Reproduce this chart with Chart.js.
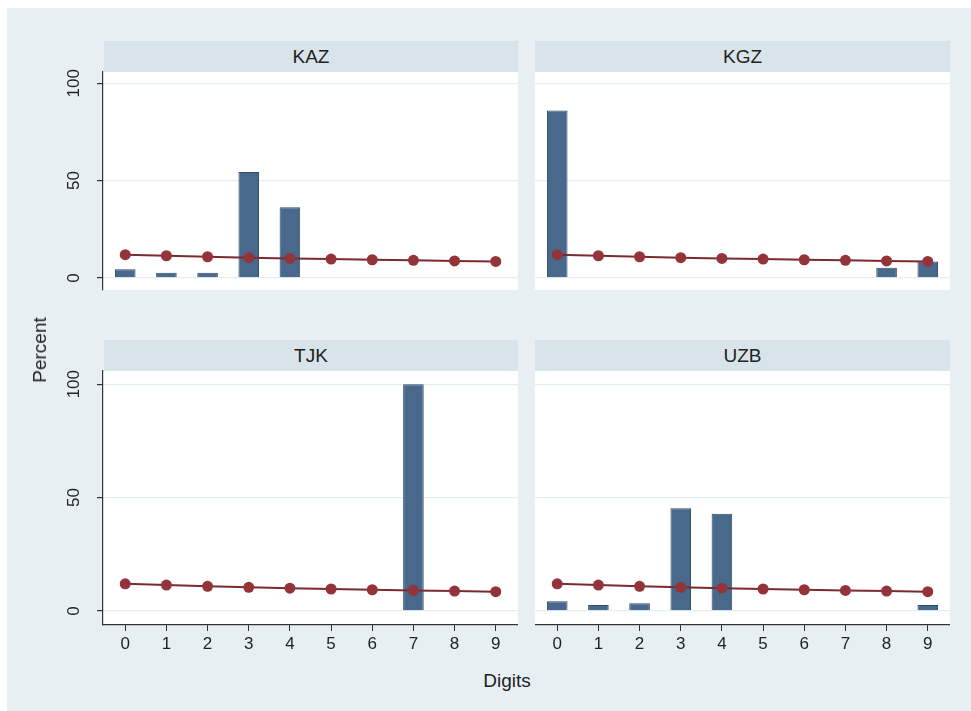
<!DOCTYPE html>
<html>
<head>
<meta charset="utf-8">
<script src="https://cdn.jsdelivr.net/npm/chart.js@4/dist/chart.umd.min.js"></script>
<style>
  html, body { margin:0; padding:0; background:#ffffff; }
  body { width:971px; height:711px; position:relative; overflow:hidden; font-family:"Liberation Sans", Arial, sans-serif; }
  #bg { position:absolute; left:7px; top:8px; width:964px; height:703px; background:#e8eff2; }
  .hdr { position:absolute; height:31px; background:#d9e4ea; color:#222; font-size:19px; text-align:center; line-height:31px; }
  .cv { position:absolute; }
  #ylab { position:absolute; left:40px; top:350px; transform:translate(-50%,-50%) rotate(-90deg); font-size:19px; color:#222; white-space:nowrap; }
  #xlab { position:absolute; left:507px; top:681px; transform:translate(-50%,-50%); font-size:19px; color:#222; }
</style>
</head>
<body>
<div id="bg"></div>
<canvas id="c0" class="cv"></canvas>
<canvas id="c1" class="cv"></canvas>
<canvas id="c2" class="cv"></canvas>
<canvas id="c3" class="cv"></canvas>
<div class="hdr" style="left:104px; top:41px; width:414px;">KAZ</div>
<div class="hdr" style="left:535px; top:41px; width:415px;">KGZ</div>
<div class="hdr" style="left:104px; top:340px; width:414px;">TJK</div>
<div class="hdr" style="left:535px; top:340px; width:415px;">UZB</div>
<div id="ylab">Percent</div>
<div id="xlab">Digits</div>
<script>
// ---- data ----
const digits = [0, 1, 2, 3, 4, 5, 6, 7, 8, 9];
const yTicks = [0, 50, 100];
const panels = ["KAZ", "KGZ", "TJK", "UZB"];
const kaz = [4.4, 2.6, 2.7, 54.4, 36.3, 0, 0, 0, 0, 0];
const kgz = [86.0, 0, 0, 0, 0, 0, 0, 0, 5.2, 8.5];
const tjk = [0, 0, 0, 0, 0, 0, 0, 100, 0, 0];
const uzb = [4.3, 2.6, 3.4, 45.3, 42.9, 0, 0, 0, 0, 2.6];
const benford = [11.97, 11.39, 10.88, 10.43, 10.03, 9.67, 9.34, 9.04, 8.76, 8.50];
const seriesList = [kaz, kgz, tjk, uzb];

// ---- layout ----
const PAD_TOP = 12;
const boxes = [
  {id:"c0", left:40,  top:72 - PAD_TOP,  width:478, height:254 + PAD_TOP, showY:true,  showX:false},
  {id:"c1", left:535, top:72 - PAD_TOP,  width:415, height:254 + PAD_TOP, showY:false, showX:false},
  {id:"c2", left:40,  top:371 - PAD_TOP, width:478, height:290 + PAD_TOP, showY:true,  showX:true},
  {id:"c3", left:535, top:371 - PAD_TOP, width:415, height:290 + PAD_TOP, showY:false, showX:true}
];
const Y_AXIS_W = 63;
const X_AXIS_H = 36;
const FONT = "Liberation Sans, Arial, sans-serif";

const bgPlugin = {
  id: "plotbg",
  beforeDraw(chart) {
    const a = chart.chartArea, ctx = chart.ctx;
    ctx.save();
    ctx.fillStyle = "#ffffff";
    ctx.fillRect(a.left, a.top, a.right - a.left, a.bottom - a.top);
    ctx.restore();
  }
};
const yLabelPlugin = {
  id: "ylabels",
  afterDraw(chart) {
    if (!chart.options.plugins.ylabels.show) return;
    const s = chart.scales.y, ctx = chart.ctx;
    ctx.save();
    ctx.fillStyle = "#222";
    ctx.font = "17px " + FONT;
    ctx.textAlign = "center";
    ctx.textBaseline = "middle";
    yTicks.forEach(v => {
      const py = s.getPixelForValue(v);
      ctx.save();
      ctx.translate(chart.chartArea.left - 29, py);
      ctx.rotate(-Math.PI / 2);
      ctx.fillText(String(v), 0, 0);
      ctx.restore();
    });
    ctx.restore();
  }
};

boxes.forEach((b, i) => {
  const cv = document.getElementById(b.id);
  cv.style.left = b.left + "px";
  cv.style.top = b.top + "px";
  cv.width = b.width; cv.height = b.height;
  cv.style.width = b.width + "px"; cv.style.height = b.height + "px";
  new Chart(cv, {
    data: {
      datasets: [
        {
          type: "line",
          data: digits.map((d, k) => ({x: d, y: benford[k]})),
          borderColor: "#7a2b30",
          borderWidth: 2,
          pointRadius: 5.5,
          pointBackgroundColor: "#93343b",
          pointBorderColor: "#93343b",
          pointBorderWidth: 0,
          order: 0
        },
        {
          type: "bar",
          data: digits.map((d, k) => ({x: d, y: seriesList[i][k]})),
          backgroundColor: "#48698b",
          borderColor: "#2e4a66",
          borderWidth: 1,
          barPercentage: 0.5,
          categoryPercentage: 1.0,
          order: 1
        }
      ]
    },
    options: {
      responsive: false,
      animation: false,
      layout: { padding: {top: PAD_TOP, left: 0, right: 0, bottom: 0}, autoPadding: false },
      plugins: { legend: {display:false}, tooltip: {enabled:false}, ylabels: {show: b.showY} },
      scales: {
        x: {
          type: "linear",
          min: -0.54, max: 9.54,
          offset: false,
          display: b.showX,
          afterBuildTicks: s => { s.ticks = digits.map(v => ({value: v})); },
          afterFit: s => { s.height = X_AXIS_H; },
          grid: { offset: false, drawOnChartArea: false, drawTicks: true, tickLength: 6, tickColor: "#333", lineWidth: 1 },
          border: { display: true, color: "#333", width: 1.2 },
          ticks: { color: "#222", font: {size: 17, family: FONT}, padding: 3, maxRotation: 0, autoSkip: false }
        },
        y: {
          type: "linear",
          min: -6.2, max: 105.8,
          display: true,
          afterBuildTicks: s => { s.ticks = yTicks.map(v => ({value: v})); },
          afterFit: s => { s.width = b.showY ? Y_AXIS_W : 0; },
          grid: { color: "#e4edf0", lineWidth: 1.2, drawTicks: b.showY, tickLength: 6, tickColor: "#333" },
          border: { display: b.showY, color: "#333", width: 1.2 },
          ticks: { display: false }
        }
      }
    },
    plugins: [bgPlugin, yLabelPlugin]
  });
});
</script>
</body>
</html>
